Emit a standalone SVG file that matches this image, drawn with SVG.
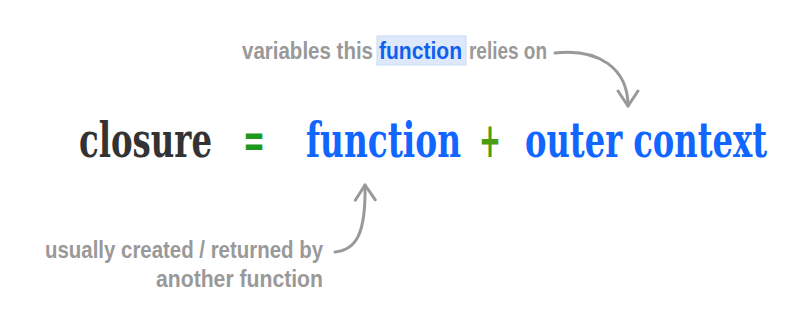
<svg xmlns="http://www.w3.org/2000/svg" width="800" height="332" viewBox="0 0 800 332">
  <style>
    .main { font-family: "DejaVu Serif", "Liberation Serif", serif; font-weight: bold; font-stretch: condensed; font-size: 36px; }
    .note { font-family: "Liberation Sans", "DejaVu Sans", sans-serif; font-weight: bold; font-size: 20.5px; fill: #999999; }
    .blue { fill: #1166ff; }
    .conn { fill: none; stroke: #999999; stroke-width: 3; stroke-linecap: round; stroke-linejoin: round; }
  </style>
  <defs>
    <marker id="arrow" markerUnits="userSpaceOnUse" markerWidth="30" markerHeight="30" refX="0" refY="0" viewBox="-20 -15 30 30" orient="auto" overflow="visible">
      <path d="M-15,-10 L0,0 L-15,10" fill="none" stroke="#999999" stroke-width="3" stroke-linecap="round" stroke-linejoin="round"/>
    </marker>
  </defs>
  <rect width="800" height="332" fill="#ffffff"/>

  <g id="closure">
    <text class="main" x="79" y="0" transform="translate(0,157) scale(1,1.33)" fill="#333333" textLength="133" lengthAdjust="spacingAndGlyphs">closure</text>
  </g>
  <g id="equals">
    <text class="main" x="243" y="0" transform="translate(0,157) scale(1,1.33)" fill="#1d9a1d" textLength="22" lengthAdjust="spacingAndGlyphs">=</text>
  </g>
  <g id="function">
    <text class="main blue" x="306" y="0" transform="translate(0,157) scale(1,1.33)" textLength="155" lengthAdjust="spacingAndGlyphs">function</text>
  </g>
  <g id="plus">
    <text class="main" x="479" y="0" transform="translate(0,157) scale(1,1.33)" fill="#4a9e12" textLength="22" lengthAdjust="spacingAndGlyphs">+</text>
  </g>
  <g id="outer-context">
    <text class="main blue" x="525" y="0" transform="translate(0,157) scale(1,1.33)" textLength="242" lengthAdjust="spacingAndGlyphs">outer context</text>
  </g>

  <g id="note-top">
    <rect x="377" y="36" width="89" height="29" fill="#dde9fb" stroke="#c8daf5" stroke-width="1"/>
    <text class="note" x="242" y="0" transform="translate(0,59) scale(1,1.2)" textLength="131" lengthAdjust="spacingAndGlyphs">variables this</text>
    <text class="note" x="379" y="0" transform="translate(0,59) scale(1,1.2)" style="fill:#1060f0" textLength="83" lengthAdjust="spacingAndGlyphs">function</text>
    <text class="note" x="469" y="0" transform="translate(0,59) scale(1,1.2)" textLength="78" lengthAdjust="spacingAndGlyphs">relies on</text>
  </g>

  <g id="note-bottom">
    <text class="note" x="45" y="0" transform="translate(0,258) scale(1,1.2)" textLength="278" lengthAdjust="spacingAndGlyphs">usually created / returned by</text>
    <text class="note" x="156" y="0" transform="translate(0,287) scale(1,1.2)" textLength="167" lengthAdjust="spacingAndGlyphs">another function</text>
  </g>

  <g id="connectors">
    <path class="conn" d="M555,53 C598,48 628,68 628,106" marker-end="url(#arrow)"/>
    <path class="conn" d="M335,252 C356,250 366,234 365,185" marker-end="url(#arrow)"/>
  </g>
</svg>
